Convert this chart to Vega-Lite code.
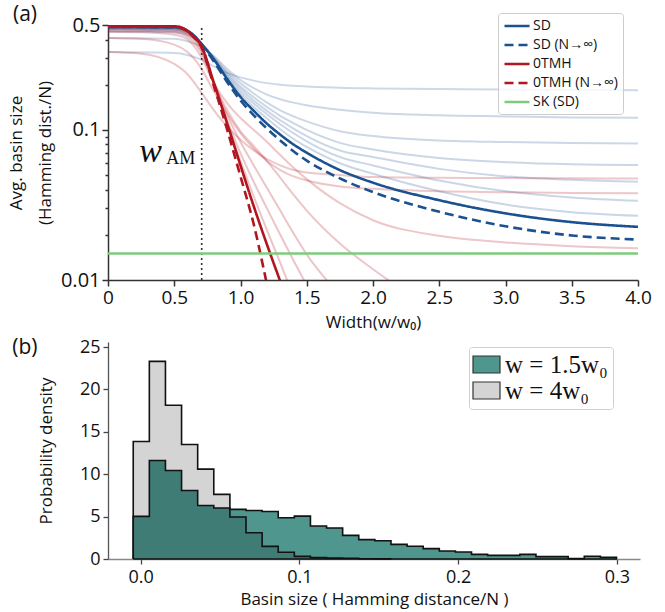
{
"$schema": "https://vega.github.io/schema/vega-lite/v6.json",
"background": "white",
"padding": {"left": 7, "top": 3, "right": 5, "bottom": 6},
"spacing": 62,
"bounds": "flush",
"config": {
  "font": "Open Sans",
  "view": {"stroke": null},
  "axis": {"grid": false, "labelFont": "Open Sans", "titleFont": "Open Sans", "labelColor": "#111", "titleColor": "#111", "titleFontWeight": "normal", "domainColor": "#333", "tickColor": "#333", "labelOverlap": false, "labelFlush": false, "titleLineHeight": 29},
  "style": {"guide-title": {"lineHeight": 29}}
},
"datasets": {
  "main": [
    {"g":"SD","x":0,"y":0.485},{"g":"SD","x":0.5,"y":0.483},{"g":"SD","x":0.55,"y":0.478},{"g":"SD","x":0.6,"y":0.458},{"g":"SD","x":0.65,"y":0.425},{"g":"SD","x":0.7,"y":0.38},{"g":"SD","x":0.8,"y":0.295},{"g":"SD","x":0.9,"y":0.218},{"g":"SD","x":1.0,"y":0.166},{"g":"SD","x":1.1,"y":0.134},{"g":"SD","x":1.2,"y":0.11},{"g":"SD","x":1.3,"y":0.093},{"g":"SD","x":1.4,"y":0.08},{"g":"SD","x":1.5,"y":0.0705},{"g":"SD","x":1.75,"y":0.054},{"g":"SD","x":2.0,"y":0.0445},{"g":"SD","x":2.5,"y":0.034},{"g":"SD","x":3.0,"y":0.0278},{"g":"SD","x":3.5,"y":0.0243},{"g":"SD","x":4.0,"y":0.0226},
    {"g":"SD (N→∞)","x":0,"y":0.485},{"g":"SD (N→∞)","x":0.5,"y":0.483},{"g":"SD (N→∞)","x":0.55,"y":0.477},{"g":"SD (N→∞)","x":0.6,"y":0.456},{"g":"SD (N→∞)","x":0.65,"y":0.42},{"g":"SD (N→∞)","x":0.7,"y":0.375},{"g":"SD (N→∞)","x":0.8,"y":0.285},{"g":"SD (N→∞)","x":0.9,"y":0.208},{"g":"SD (N→∞)","x":1.0,"y":0.157},{"g":"SD (N→∞)","x":1.1,"y":0.125},{"g":"SD (N→∞)","x":1.2,"y":0.102},{"g":"SD (N→∞)","x":1.3,"y":0.085},{"g":"SD (N→∞)","x":1.4,"y":0.072},{"g":"SD (N→∞)","x":1.5,"y":0.0625},{"g":"SD (N→∞)","x":1.75,"y":0.0475},{"g":"SD (N→∞)","x":2.0,"y":0.0385},{"g":"SD (N→∞)","x":2.5,"y":0.0285},{"g":"SD (N→∞)","x":3.0,"y":0.0228},{"g":"SD (N→∞)","x":3.5,"y":0.0198},{"g":"SD (N→∞)","x":4.0,"y":0.0186},
    {"g":"0TMH","x":0,"y":0.493},{"g":"0TMH","x":0.5,"y":0.49},{"g":"0TMH","x":0.55,"y":0.482},{"g":"0TMH","x":0.6,"y":0.455},{"g":"0TMH","x":0.65,"y":0.415},{"g":"0TMH","x":0.7,"y":0.37},{"g":"0TMH","x":0.8,"y":0.205},{"g":"0TMH","x":0.9,"y":0.11},{"g":"0TMH","x":1.0,"y":0.058},{"g":"0TMH","x":1.1,"y":0.031},{"g":"0TMH","x":1.2,"y":0.0172},{"g":"0TMH","x":1.3,"y":0.0098},{"g":"0TMH","x":1.4,"y":0.0056},
    {"g":"0TMH (N→∞)","x":0,"y":0.493},{"g":"0TMH (N→∞)","x":0.5,"y":0.49},{"g":"0TMH (N→∞)","x":0.55,"y":0.482},{"g":"0TMH (N→∞)","x":0.6,"y":0.455},{"g":"0TMH (N→∞)","x":0.65,"y":0.413},{"g":"0TMH (N→∞)","x":0.7,"y":0.365},{"g":"0TMH (N→∞)","x":0.8,"y":0.195},{"g":"0TMH (N→∞)","x":0.9,"y":0.1},{"g":"0TMH (N→∞)","x":1.0,"y":0.049},{"g":"0TMH (N→∞)","x":1.1,"y":0.0235},{"g":"0TMH (N→∞)","x":1.2,"y":0.0093},{"g":"0TMH (N→∞)","x":1.3,"y":0.0035},
    {"g":"SK (SD)","x":0,"y":0.015},{"g":"SK (SD)","x":4,"y":0.015}
  ],
  "faint": [
    {"s":"b1","x":0,"y":0.33},{"s":"b1","x":0.5,"y":0.326},{"s":"b1","x":0.6,"y":0.316},{"s":"b1","x":0.7,"y":0.295},{"s":"b1","x":0.8,"y":0.265},{"s":"b1","x":0.9,"y":0.24},{"s":"b1","x":1.0,"y":0.224},{"s":"b1","x":1.1,"y":0.213},{"s":"b1","x":1.2,"y":0.205},{"s":"b1","x":1.3,"y":0.2},{"s":"b1","x":1.4,"y":0.197},{"s":"b1","x":1.5,"y":0.195},{"s":"b1","x":1.75,"y":0.191},{"s":"b1","x":2.0,"y":0.189},{"s":"b1","x":2.5,"y":0.187},{"s":"b1","x":3.0,"y":0.186},{"s":"b1","x":3.5,"y":0.185},{"s":"b1","x":4.0,"y":0.184},
    {"s":"b2","x":0,"y":0.41},{"s":"b2","x":0.5,"y":0.405},{"s":"b2","x":0.6,"y":0.39},{"s":"b2","x":0.7,"y":0.36},{"s":"b2","x":0.8,"y":0.31},{"s":"b2","x":0.9,"y":0.255},{"s":"b2","x":1.0,"y":0.215},{"s":"b2","x":1.1,"y":0.19},{"s":"b2","x":1.2,"y":0.172},{"s":"b2","x":1.3,"y":0.16},{"s":"b2","x":1.4,"y":0.152},{"s":"b2","x":1.5,"y":0.146},{"s":"b2","x":1.75,"y":0.136},{"s":"b2","x":2.0,"y":0.13},{"s":"b2","x":2.5,"y":0.125},{"s":"b2","x":3.0,"y":0.123},{"s":"b2","x":3.5,"y":0.121},{"s":"b2","x":4.0,"y":0.1205},
    {"s":"b3","x":0,"y":0.45},{"s":"b3","x":0.5,"y":0.447},{"s":"b3","x":0.6,"y":0.43},{"s":"b3","x":0.7,"y":0.375},{"s":"b3","x":0.8,"y":0.305},{"s":"b3","x":0.9,"y":0.245},{"s":"b3","x":1.0,"y":0.205},{"s":"b3","x":1.1,"y":0.175},{"s":"b3","x":1.2,"y":0.152},{"s":"b3","x":1.3,"y":0.135},{"s":"b3","x":1.4,"y":0.123},{"s":"b3","x":1.5,"y":0.114},{"s":"b3","x":1.75,"y":0.098},{"s":"b3","x":2.0,"y":0.091},{"s":"b3","x":2.5,"y":0.085},{"s":"b3","x":3.0,"y":0.083},{"s":"b3","x":3.5,"y":0.0818},{"s":"b3","x":4.0,"y":0.0813},
    {"s":"b4","x":0,"y":0.46},{"s":"b4","x":0.5,"y":0.457},{"s":"b4","x":0.6,"y":0.44},{"s":"b4","x":0.7,"y":0.378},{"s":"b4","x":0.8,"y":0.3},{"s":"b4","x":0.9,"y":0.238},{"s":"b4","x":1.0,"y":0.195},{"s":"b4","x":1.1,"y":0.165},{"s":"b4","x":1.2,"y":0.142},{"s":"b4","x":1.3,"y":0.124},{"s":"b4","x":1.4,"y":0.111},{"s":"b4","x":1.5,"y":0.1},{"s":"b4","x":1.75,"y":0.082},{"s":"b4","x":2.0,"y":0.074},{"s":"b4","x":2.5,"y":0.065},{"s":"b4","x":3.0,"y":0.061},{"s":"b4","x":3.5,"y":0.059},{"s":"b4","x":4.0,"y":0.0583},
    {"s":"b5","x":0,"y":0.47},{"s":"b5","x":0.5,"y":0.467},{"s":"b5","x":0.6,"y":0.448},{"s":"b5","x":0.7,"y":0.38},{"s":"b5","x":0.8,"y":0.296},{"s":"b5","x":0.9,"y":0.232},{"s":"b5","x":1.0,"y":0.188},{"s":"b5","x":1.1,"y":0.157},{"s":"b5","x":1.2,"y":0.134},{"s":"b5","x":1.3,"y":0.116},{"s":"b5","x":1.4,"y":0.102},{"s":"b5","x":1.5,"y":0.091},{"s":"b5","x":1.75,"y":0.073},{"s":"b5","x":2.0,"y":0.066},{"s":"b5","x":2.5,"y":0.055},{"s":"b5","x":3.0,"y":0.049},{"s":"b5","x":3.5,"y":0.0465},{"s":"b5","x":4.0,"y":0.0451},
    {"s":"b6","x":0,"y":0.475},{"s":"b6","x":0.5,"y":0.472},{"s":"b6","x":0.6,"y":0.452},{"s":"b6","x":0.7,"y":0.38},{"s":"b6","x":0.8,"y":0.292},{"s":"b6","x":0.9,"y":0.226},{"s":"b6","x":1.0,"y":0.18},{"s":"b6","x":1.1,"y":0.15},{"s":"b6","x":1.2,"y":0.127},{"s":"b6","x":1.3,"y":0.109},{"s":"b6","x":1.4,"y":0.095},{"s":"b6","x":1.5,"y":0.084},{"s":"b6","x":1.75,"y":0.066},{"s":"b6","x":2.0,"y":0.058},{"s":"b6","x":2.5,"y":0.046},{"s":"b6","x":3.0,"y":0.039},{"s":"b6","x":3.5,"y":0.0355},{"s":"b6","x":4.0,"y":0.0337},
    {"s":"b7","x":0,"y":0.48},{"s":"b7","x":0.5,"y":0.477},{"s":"b7","x":0.6,"y":0.455},{"s":"b7","x":0.7,"y":0.38},{"s":"b7","x":0.8,"y":0.288},{"s":"b7","x":0.9,"y":0.221},{"s":"b7","x":1.0,"y":0.173},{"s":"b7","x":1.1,"y":0.142},{"s":"b7","x":1.2,"y":0.119},{"s":"b7","x":1.3,"y":0.101},{"s":"b7","x":1.4,"y":0.087},{"s":"b7","x":1.5,"y":0.077},{"s":"b7","x":1.75,"y":0.06},{"s":"b7","x":2.0,"y":0.051},{"s":"b7","x":2.5,"y":0.039},{"s":"b7","x":3.0,"y":0.0318},{"s":"b7","x":3.5,"y":0.0283},{"s":"b7","x":4.0,"y":0.0268},
    {"s":"r1","x":0,"y":0.33},{"s":"r1","x":0.25,"y":0.322},{"s":"r1","x":0.5,"y":0.275},{"s":"r1","x":0.6,"y":0.235},{"s":"r1","x":0.7,"y":0.18},{"s":"r1","x":0.8,"y":0.135},{"s":"r1","x":0.9,"y":0.105},{"s":"r1","x":1.0,"y":0.086},{"s":"r1","x":1.1,"y":0.073},{"s":"r1","x":1.2,"y":0.064},{"s":"r1","x":1.3,"y":0.058},{"s":"r1","x":1.4,"y":0.054},{"s":"r1","x":1.5,"y":0.052},{"s":"r1","x":1.75,"y":0.05},{"s":"r1","x":2.0,"y":0.0485},{"s":"r1","x":2.5,"y":0.048},{"s":"r1","x":3.0,"y":0.0478},{"s":"r1","x":3.5,"y":0.0476},{"s":"r1","x":4.0,"y":0.0475},
    {"s":"r2","x":0,"y":0.41},{"s":"r2","x":0.25,"y":0.405},{"s":"r2","x":0.5,"y":0.37},{"s":"r2","x":0.6,"y":0.33},{"s":"r2","x":0.7,"y":0.26},{"s":"r2","x":0.8,"y":0.18},{"s":"r2","x":0.9,"y":0.128},{"s":"r2","x":1.0,"y":0.095},{"s":"r2","x":1.1,"y":0.075},{"s":"r2","x":1.2,"y":0.062},{"s":"r2","x":1.3,"y":0.054},{"s":"r2","x":1.4,"y":0.049},{"s":"r2","x":1.5,"y":0.046},{"s":"r2","x":1.75,"y":0.042},{"s":"r2","x":2.0,"y":0.0405},{"s":"r2","x":2.5,"y":0.039},{"s":"r2","x":3.0,"y":0.0385},{"s":"r2","x":3.5,"y":0.038},{"s":"r2","x":4.0,"y":0.0378},
    {"s":"r3","x":0,"y":0.45},{"s":"r3","x":0.25,"y":0.448},{"s":"r3","x":0.5,"y":0.43},{"s":"r3","x":0.6,"y":0.4},{"s":"r3","x":0.7,"y":0.31},{"s":"r3","x":0.8,"y":0.205},{"s":"r3","x":0.9,"y":0.15},{"s":"r3","x":1.0,"y":0.12},{"s":"r3","x":1.1,"y":0.1},{"s":"r3","x":1.2,"y":0.083},{"s":"r3","x":1.3,"y":0.068},{"s":"r3","x":1.4,"y":0.056},{"s":"r3","x":1.5,"y":0.047},{"s":"r3","x":1.75,"y":0.0325},{"s":"r3","x":2.0,"y":0.025},{"s":"r3","x":2.5,"y":0.0197},{"s":"r3","x":3.0,"y":0.0178},{"s":"r3","x":3.5,"y":0.0168},{"s":"r3","x":4.0,"y":0.0163},
    {"s":"r4","x":0,"y":0.46},{"s":"r4","x":0.25,"y":0.458},{"s":"r4","x":0.5,"y":0.445},{"s":"r4","x":0.6,"y":0.415},{"s":"r4","x":0.7,"y":0.33},{"s":"r4","x":0.8,"y":0.205},{"s":"r4","x":0.9,"y":0.135},{"s":"r4","x":1.0,"y":0.098},{"s":"r4","x":1.1,"y":0.078},{"s":"r4","x":1.2,"y":0.062},{"s":"r4","x":1.3,"y":0.048},{"s":"r4","x":1.4,"y":0.037},{"s":"r4","x":1.5,"y":0.029},{"s":"r4","x":1.75,"y":0.0175},{"s":"r4","x":2.0,"y":0.0118},{"s":"r4","x":2.5,"y":0.006},
    {"s":"r5","x":0,"y":0.47},{"s":"r5","x":0.25,"y":0.468},{"s":"r5","x":0.5,"y":0.458},{"s":"r5","x":0.6,"y":0.43},{"s":"r5","x":0.7,"y":0.345},{"s":"r5","x":0.8,"y":0.205},{"s":"r5","x":0.9,"y":0.125},{"s":"r5","x":1.0,"y":0.083},{"s":"r5","x":1.1,"y":0.058},{"s":"r5","x":1.2,"y":0.041},{"s":"r5","x":1.3,"y":0.029},{"s":"r5","x":1.4,"y":0.0205},{"s":"r5","x":1.5,"y":0.0148},{"s":"r5","x":1.75,"y":0.0078},{"s":"r5","x":2.0,"y":0.004},
    {"s":"r6","x":0,"y":0.478},{"s":"r6","x":0.25,"y":0.476},{"s":"r6","x":0.5,"y":0.47},{"s":"r6","x":0.6,"y":0.44},{"s":"r6","x":0.7,"y":0.355},{"s":"r6","x":0.8,"y":0.2},{"s":"r6","x":0.9,"y":0.115},{"s":"r6","x":1.0,"y":0.07},{"s":"r6","x":1.1,"y":0.045},{"s":"r6","x":1.2,"y":0.03},{"s":"r6","x":1.3,"y":0.02},{"s":"r6","x":1.4,"y":0.0135},{"s":"r6","x":1.5,"y":0.0092},{"s":"r6","x":1.75,"y":0.0035},
    {"s":"r7","x":0,"y":0.485},{"s":"r7","x":0.25,"y":0.484},{"s":"r7","x":0.5,"y":0.478},{"s":"r7","x":0.6,"y":0.45},{"s":"r7","x":0.7,"y":0.362},{"s":"r7","x":0.8,"y":0.2},{"s":"r7","x":0.9,"y":0.11},{"s":"r7","x":1.0,"y":0.062},{"s":"r7","x":1.1,"y":0.036},{"s":"r7","x":1.2,"y":0.0215},{"s":"r7","x":1.3,"y":0.013},{"s":"r7","x":1.4,"y":0.0078},{"s":"r7","x":1.5,"y":0.0047}
  ],
  "w15": [
    {"x0":-0.01485,"x1":-0.0047,"d":0},
    {"x0":-0.0047,"x1":0.00545,"d":5.03},{"x0":0.00545,"x1":0.0156,"d":11.62},{"x0":0.0156,"x1":0.02575,"d":10.44},{"x0":0.02575,"x1":0.0359,"d":8.09},{"x0":0.0359,"x1":0.04605,"d":6.32},{"x0":0.04605,"x1":0.0562,"d":6.01},{"x0":0.0562,"x1":0.06635,"d":5.85},{"x0":0.06635,"x1":0.0765,"d":5.73},{"x0":0.0765,"x1":0.08665,"d":5.61},{"x0":0.08665,"x1":0.0968,"d":4.87},
    {"x0":0.0968,"x1":0.10695,"d":5.06},{"x0":0.10695,"x1":0.1171,"d":3.89},{"x0":0.1171,"x1":0.12725,"d":3.65},{"x0":0.12725,"x1":0.1374,"d":2.79},{"x0":0.1374,"x1":0.14755,"d":2.28},{"x0":0.14755,"x1":0.1577,"d":2.16},{"x0":0.1577,"x1":0.16785,"d":1.73},{"x0":0.16785,"x1":0.178,"d":1.5},{"x0":0.178,"x1":0.18815,"d":1.22},{"x0":0.18815,"x1":0.1983,"d":0.94},
    {"x0":0.1983,"x1":0.20845,"d":0.82},{"x0":0.20845,"x1":0.2186,"d":0.55},{"x0":0.2186,"x1":0.22875,"d":0.43},{"x0":0.22875,"x1":0.2389,"d":0.43},{"x0":0.2389,"x1":0.24905,"d":0.55},{"x0":0.24905,"x1":0.2592,"d":0.28},{"x0":0.2592,"x1":0.26935,"d":0.28},{"x0":0.26935,"x1":0.2795,"d":0.05},{"x0":0.2795,"x1":0.28965,"d":0.32},{"x0":0.28965,"x1":0.2998,"d":0.2},
    {"x0":0.2998,"x1":0.2999,"d":0}
  ],
  "w4": [
    {"x0":-0.01485,"x1":-0.0047,"d":0},
    {"x0":-0.0047,"x1":0.00545,"d":13.86},{"x0":0.00545,"x1":0.0156,"d":23.32},{"x0":0.0156,"x1":0.02575,"d":18.14},{"x0":0.02575,"x1":0.0359,"d":13.5},{"x0":0.0359,"x1":0.04605,"d":10.6},{"x0":0.04605,"x1":0.0562,"d":7.62},{"x0":0.0562,"x1":0.06635,"d":4.95},{"x0":0.06635,"x1":0.0765,"d":3.1},{"x0":0.0765,"x1":0.08665,"d":1.49},{"x0":0.08665,"x1":0.0968,"d":0.79},
    {"x0":0.0968,"x1":0.10695,"d":0.31},{"x0":0.10695,"x1":0.1171,"d":0.16},{"x0":0.1171,"x1":0.12725,"d":0.1},{"x0":0.12725,"x1":0.1374,"d":0.08},{"x0":0.1374,"x1":0.14755,"d":0.03},{"x0":0.14755,"x1":0.1577,"d":0.02},
    {"x0":0.1577,"x1":0.1578,"d":0}
  ]
},
"vconcat": [
  {
    "width": 530, "height": 255,
    "layer": [
      {
        "data": {"name": "faint"},
        "mark": {"type": "line", "clip": true, "interpolate": "monotone", "strokeWidth": 2},
        "encoding": {
          "x": {"field": "x", "type": "quantitative", "scale": {"domain": [0, 4], "nice": false, "zero": false},
                "axis": {"values": [0, 0.5, 1, 1.5, 2, 2.5, 3, 3.5, 4], "labelExpr": "datum.value == 0 ? '0' : format(datum.value, '.1f')", "title": "Width(w/w₀)", "labelFontSize": 19, "titleFontSize": 17, "tickSize": 6, "labelPadding": 2, "titlePadding": 7, "domainWidth": 1.5, "tickWidth": 1.5}},
          "y": {"field": "y", "type": "quantitative", "scale": {"type": "log", "domain": [0.01, 0.5], "nice": false},
                "axis": {"values": [0.01, 0.02, 0.03, 0.04, 0.05, 0.06, 0.07, 0.08, 0.09, 0.1, 0.2, 0.3, 0.4, 0.5],
                         "labelExpr": "datum.value == 0.01 ? '0.01' : datum.value == 0.1 ? '0.1' : datum.value == 0.5 ? '0.5' : ''",
                         "tickSize": {"condition": {"test": "datum.value == 0.01 || datum.value == 0.1 || datum.value == 0.5", "value": 6}, "value": 3},
                         "title": ["Avg. basin size", "(Hamming dist./N)"], "titleFontSize": 17, "titleLineHeight": 29, "labelFontSize": 20, "labelPadding": 2, "titlePadding": 6, "domainWidth": 1.5, "tickWidth": 1.5}},
          "stroke": {"field": "s", "type": "nominal", "scale": {"domain": ["b1","b2","b3","b4","b5","b6","b7","r1","r2","r3","r4","r5","r6","r7"], "range": ["#1a5190","#1a5190","#1a5190","#1a5190","#1a5190","#1a5190","#1a5190","#b2151f","#b2151f","#b2151f","#b2151f","#b2151f","#b2151f","#b2151f"]}, "legend": null},
          "strokeOpacity": {"field": "s", "type": "ordinal", "scale": {"domain": ["b1","b2","b3","b4","b5","b6","b7","r1","r2","r3","r4","r5","r6","r7"], "range": [0.22,0.25,0.3,0.36,0.44,0.52,0.62,0.12,0.14,0.17,0.2,0.26,0.34,0.45]}, "legend": null}
        }
      },
      {
        "data": {"values": [{}]},
        "mark": {"type": "rule", "strokeDash": [2, 3], "strokeWidth": 1.6, "color": "#333"},
        "encoding": {"x": {"datum": 0.707, "type": "quantitative"}, "y": {"datum": 0.01, "type": "quantitative"}, "y2": {"datum": 0.5}}
      },
      {
        "data": {"name": "main"},
        "mark": {"type": "line", "clip": true, "interpolate": "monotone"},
        "encoding": {
          "x": {"field": "x", "type": "quantitative"},
          "y": {"field": "y", "type": "quantitative"},
          "color": {"field": "g", "type": "nominal", "scale": {"domain": ["SD","SD (N→∞)","0TMH","0TMH (N→∞)","SK (SD)"], "range": ["#1a5190","#1a5190","#b2151f","#b2151f","#7dcc7d"]},
                    "legend": {"title": null, "orient": "none", "legendX": 390, "legendY": -12, "symbolType": "M-1,0H2.85", "symbolSize": 169, "symbolStrokeWidth": 2.5, "labelFontSize": 14, "labelFont": "Open Sans", "labelColor": "#111", "labelOffset": 14, "rowPadding": 4, "padding": 5, "fillColor": "rgba(255,255,255,0.8)", "strokeColor": "#cccccc", "cornerRadius": 3}},
          "strokeDash": {"field": "g", "type": "nominal", "scale": {"domain": ["SD","SD (N→∞)","0TMH","0TMH (N→∞)","SK (SD)"], "range": [[1,0],[9,5],[1,0],[9,5],[1,0]]}},
          "strokeWidth": {"field": "g", "type": "ordinal", "scale": {"domain": ["SD","SD (N→∞)","0TMH","0TMH (N→∞)","SK (SD)"], "range": [2.6,2.6,2.6,2.6,1.5]}, "legend": null}
        }
      },
      {
        "data": {"values": [{}]},
        "mark": {"type": "text", "text": "w", "font": "Liberation Serif", "fontStyle": "italic", "fontSize": 34, "align": "left", "baseline": "alphabetic", "color": "#111"},
        "encoding": {"x": {"datum": 0.235, "type": "quantitative"}, "y": {"datum": 0.061, "type": "quantitative"}}
      },
      {
        "data": {"values": [{}]},
        "mark": {"type": "text", "text": "AM", "font": "Liberation Serif", "fontSize": 18, "align": "left", "baseline": "alphabetic", "color": "#111"},
        "encoding": {"x": {"datum": 0.44, "type": "quantitative"}, "y": {"datum": 0.0595, "type": "quantitative"}}
      },
      {
        "data": {"values": [{}]},
        "mark": {"type": "text", "text": "(a)", "font": "Open Sans", "fontSize": 21, "align": "left", "baseline": "alphabetic", "color": "#111"},
        "encoding": {"x": {"datum": -0.717, "type": "quantitative"}, "y": {"datum": 0.532, "type": "quantitative"}}
      }
    ]
  },
  {
    "width": 532, "height": 217,
    "layer": [
      {
        "data": {"name": "w15"},
        "mark": {"type": "area", "interpolate": "step-before", "clip": true},
        "encoding": {
          "x": {"field": "x1", "type": "quantitative", "scale": {"domain": [-0.0206, 0.3146], "nice": false, "zero": false},
                "axis": {"values": [0, 0.1, 0.2, 0.3], "format": ".1f", "title": "Basin size ( Hamming distance/N )", "labelFontSize": 18, "titleFontSize": 17, "tickSize": 5, "labelPadding": 4, "titlePadding": 5, "domainColor": "#888", "tickColor": "#444", "domainWidth": 1.3, "tickWidth": 1.3}},
          "y": {"field": "d", "type": "quantitative", "scale": {"domain": [0, 25.6], "nice": false},
                "axis": {"values": [0, 5, 10, 15, 20, 25], "title": "Probability density", "labelFontSize": 18, "titleFontSize": 17, "tickSize": 5, "labelPadding": 3, "titlePadding": 24, "domainColor": "#555", "tickColor": "#444", "domainWidth": 1.3, "tickWidth": 1.3}},
          "fill": {"datum": "w = 1.5w₀", "type": "nominal", "scale": {"domain": ["w = 1.5w₀", "w = 4w₀"], "range": ["#4e968e", "#d4d4d4"]},
                   "legend": {"title": null, "orient": "none", "legendX": 361, "legendY": 322, "symbolType": "M-1.35,-0.85H1.35V0.85H-1.35Z", "symbolSize": 400, "symbolStrokeColor": "#333", "symbolStrokeWidth": 1.2, "symbolOpacity": 1, "labelFontSize": 25, "labelFont": "Liberation Serif", "labelColor": "#111", "labelOffset": 6, "rowPadding": -1, "padding": 5, "fillColor": "rgba(255,255,255,0.8)", "strokeColor": "#d0d0d0", "cornerRadius": 3}}
        }
      },
      {
        "data": {"name": "w4"},
        "mark": {"type": "area", "interpolate": "step-before", "fill": "#000000", "fillOpacity": 0.17, "clip": true},
        "encoding": {"x": {"field": "x1", "type": "quantitative"}, "y": {"field": "d", "type": "quantitative"}}
      },
      {
        "data": {"name": "w15"},
        "mark": {"type": "line", "interpolate": "step-before", "color": "#111", "strokeWidth": 1.6},
        "encoding": {"x": {"field": "x1", "type": "quantitative"}, "y": {"field": "d", "type": "quantitative"}}
      },
      {
        "data": {"name": "w4"},
        "mark": {"type": "line", "interpolate": "step-before", "color": "#111", "strokeWidth": 1.6},
        "encoding": {"x": {"field": "x1", "type": "quantitative"}, "y": {"field": "d", "type": "quantitative"}}
      },
      {
        "data": {"name": "w15"},
        "mark": {"type": "rule", "color": "#111", "strokeWidth": 1.6},
        "encoding": {"x": {"aggregate": "min", "field": "x1", "type": "quantitative"}, "x2": {"aggregate": "max", "field": "x1"}, "y": {"datum": 0, "type": "quantitative"}}
      },
      {
        "data": {"values": [{}]},
        "mark": {"type": "text", "text": "(b)", "font": "Open Sans", "fontSize": 21, "align": "left", "baseline": "alphabetic", "color": "#111"},
        "encoding": {"x": {"datum": -0.0809, "type": "quantitative"}, "y": {"datum": 24.2, "type": "quantitative"}}
      }
    ]
  }
]
}
